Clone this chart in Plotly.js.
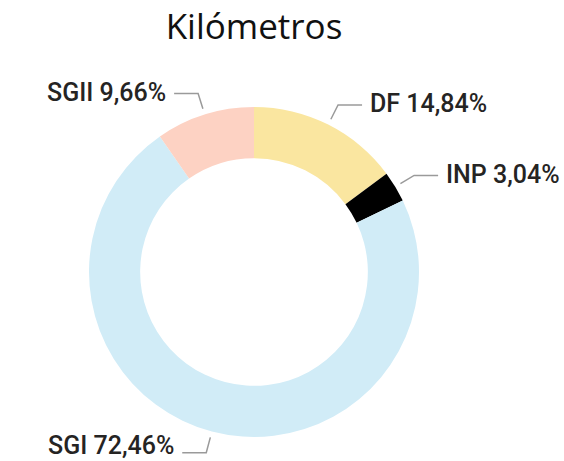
<!DOCTYPE html>
<html>
<head>
<meta charset="utf-8">
<script src="https://cdn.plot.ly/plotly-3.0.1.min.js"></script>
<style>html,body{margin:0;padding:0;background:#fff;}#chart{width:564px;height:461px;}</style>
</head>
<body>
<div id="chart"></div>
<script>
const categories = ["DF", "INP", "SGI", "SGII"];
const values = [14.84, 3.04, 72.46, 9.66];
const colors = ["#FAE6A0", "#000000", "#D1ECF7", "#FDD2C3"];
const titleText = "Kilómetros";

const W = 564, H = 461;
const CX = 254, CY = 272, R = 165;
const fmt = v => v.toFixed(2).replace(".", ",") + "%";

const total = values.reduce((a, b) => a + b, 0);
const px = x => x / W, py = y => 1 - y / H;

const shapes = [], annotations = [];
let cum = 0;
values.forEach((v, i) => {
  const mid = (cum + v / 2) / total * 2 * Math.PI;
  cum += v;
  const sx = Math.sin(mid), sy = -Math.cos(mid);
  const x0 = CX + (R + 6) * sx, y0 = CY + (R + 6) * sy;
  const x1 = CX + (R + 22) * sx, y1 = CY + (R + 22) * sy;
  const dir = sx >= 0 ? 1 : -1;
  const x2 = x1 + dir * 24;
  shapes.push({
    type: "path", xref: "paper", yref: "paper",
    path: `M ${px(x0)} ${py(y0)} L ${px(x1)} ${py(y1)} L ${px(x2)} ${py(y1)}`,
    line: {color: "#9a9a9a", width: 1.5}
  });
  const ty = Math.min(y1 - 1, H - 16);
  annotations.push({
    xref: "paper", yref: "paper",
    x: px(x2 + dir * 6), y: py(ty),
    xanchor: dir > 0 ? "left" : "right", yanchor: "middle",
    text: categories[i] + " " + fmt(v), showarrow: false,
    font: {family: "Roboto, 'DejaVu Sans Condensed', sans-serif", size: 25, weight: 500, color: "#252423"}
  });
});

const data = [{
  type: "pie",
  labels: categories,
  values: values,
  marker: {colors: colors, line: {width: 0}},
  hole: 0.69,
  sort: false,
  direction: "clockwise",
  rotation: 0,
  textinfo: "none",
  hoverinfo: "label+percent",
  showlegend: false,
  domain: {x: [(CX - R) / W, (CX + R) / W], y: [1 - (CY + R) / H, 1 - (CY - R) / H]}
}];

const layout = {
  width: W, height: H,
  margin: {l: 0, r: 0, t: 0, b: 0},
  paper_bgcolor: "#ffffff",
  title: {
    text: titleText, x: 254 / W, xanchor: "center", y: 1 - 27 / H, yanchor: "middle",
    font: {family: "'Open Sans', 'Noto Sans', sans-serif", size: 35, color: "#111111"}
  },
  shapes: shapes,
  annotations: annotations
};

Plotly.newPlot("chart", data, layout, {displayModeBar: false, staticPlot: true});
</script>
</body>
</html>
